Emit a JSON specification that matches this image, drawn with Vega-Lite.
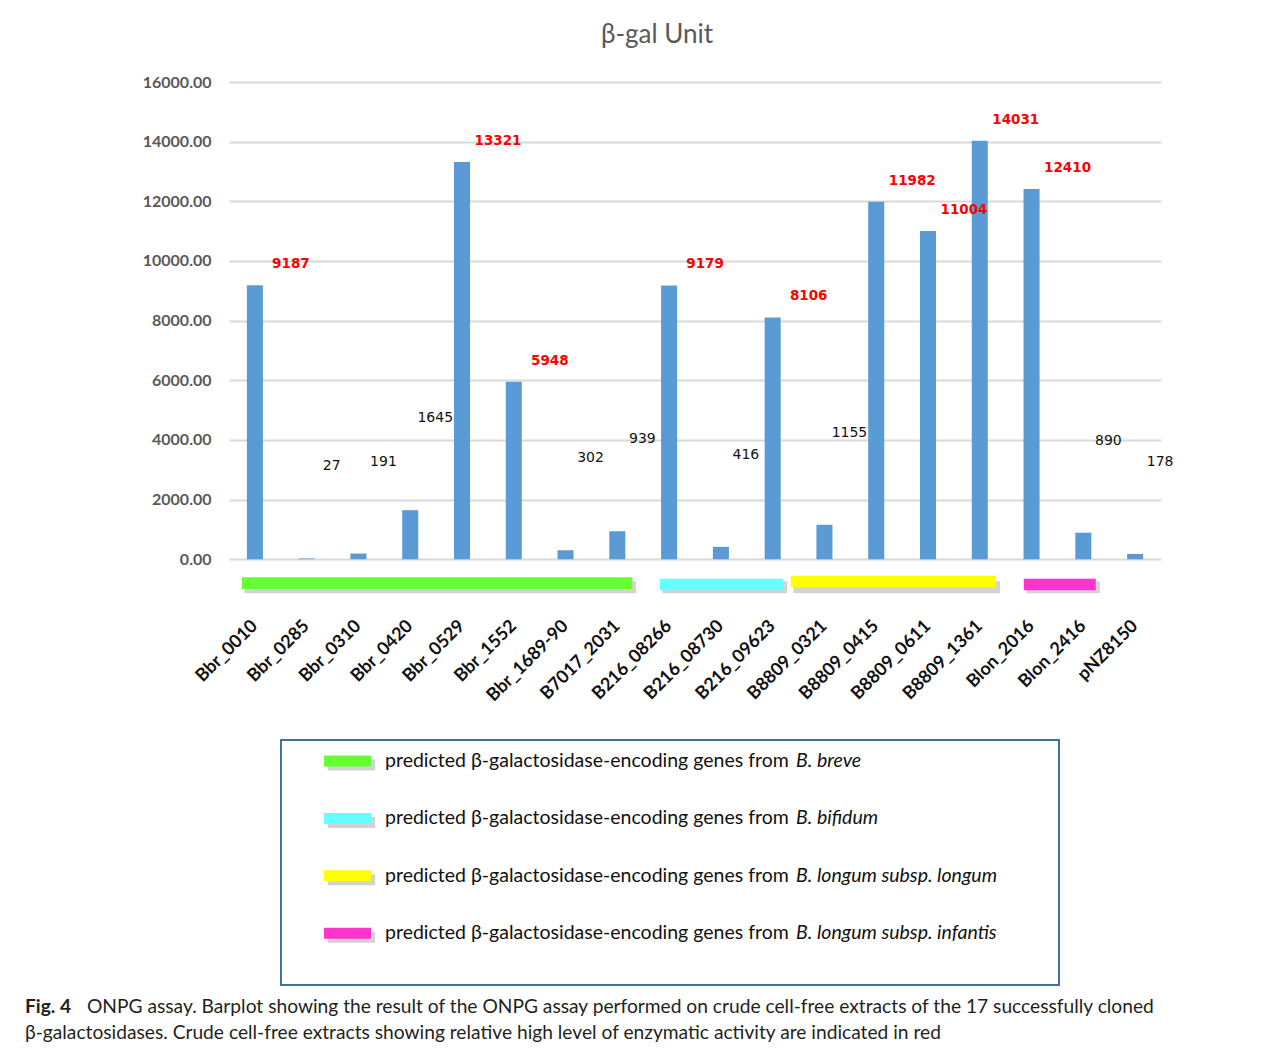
{
  "$schema": "https://vega.github.io/schema/vega-lite/v6.json",
  "autosize": {"type": "pad"},
  "padding": {"left": 25, "top": 22, "right": 5, "bottom": 5},
  "spacing": 34,
  "config": {"view": {"stroke": null}, "font": "Lato"},
  "datasets": {
    "bars": [
      {"gene": "Bbr_0010", "unit": 9187, "level": "high"},
      {"gene": "Bbr_0285", "unit": 27, "level": "low"},
      {"gene": "Bbr_0310", "unit": 191, "level": "low"},
      {"gene": "Bbr_0420", "unit": 1645, "level": "low"},
      {"gene": "Bbr_0529", "unit": 13321, "level": "high"},
      {"gene": "Bbr_1552", "unit": 5948, "level": "high"},
      {"gene": "Bbr_1689-90", "unit": 302, "level": "low"},
      {"gene": "B7017_2031", "unit": 939, "level": "low"},
      {"gene": "B216_08266", "unit": 9179, "level": "high"},
      {"gene": "B216_08730", "unit": 416, "level": "low"},
      {"gene": "B216_09623", "unit": 8106, "level": "high"},
      {"gene": "B8809_0321", "unit": 1155, "level": "low"},
      {"gene": "B8809_0415", "unit": 11982, "level": "high"},
      {"gene": "B8809_0611", "unit": 11004, "level": "high"},
      {"gene": "B8809_1361", "unit": 14031, "level": "high"},
      {"gene": "Blon_2016", "unit": 12410, "level": "high"},
      {"gene": "Blon_2416", "unit": 890, "level": "low"},
      {"gene": "pNZ8150", "unit": 178, "level": "low"}
    ],
    "groups": [
      {"species": "B. breve", "first": "Bbr_0010", "last": "B7017_2031"},
      {"species": "B. bifidum", "first": "B216_08266", "last": "B216_09623"},
      {"species": "B. longum subsp. longum", "first": "B8809_0321", "last": "B8809_1361"},
      {"species": "B. longum subsp. infantis", "first": "Blon_2016", "last": "Blon_2416"}
    ],
    "legend": [
      {"row": 1, "species": "B. breve", "prefix": "predicted β-galactosidase-encoding genes from"},
      {"row": 2, "species": "B. bifidum", "prefix": "predicted β-galactosidase-encoding genes from"},
      {"row": 3, "species": "B. longum subsp. longum", "prefix": "predicted β-galactosidase-encoding genes from"},
      {"row": 4, "species": "B. longum subsp. infantis", "prefix": "predicted β-galactosidase-encoding genes from"}
    ],
    "caption": [
      {"line": 1, "lead": "Fig. 4", "text": "ONPG assay. Barplot showing the result of the ONPG assay performed on crude cell-free extracts of the 17 successfully cloned"},
      {"line": 2, "lead": "", "text": "β-galactosidases. Crude cell-free extracts showing relative high level of enzymatic activity are indicated in red"}
    ]
  },
  "vconcat": [
    {
      "spacing": 0,
      "hconcat": [
        {"width": 117, "height": 10, "data": {"values": []}, "mark": "point"},
        {
          "width": 932,
          "height": 519,
          "title": {"text": "β-gal Unit", "fontSize": 26, "font": "Lato", "fontWeight": "normal", "color": "#595959", "offset": 26, "dx": -38},
          "encoding": {
            "x": {
              "field": "gene", "type": "nominal", "sort": null, "title": null,
              "scale": {"domain": ["Bbr_0010","Bbr_0285","Bbr_0310","Bbr_0420","Bbr_0529","Bbr_1552","Bbr_1689-90","B7017_2031","B216_08266","B216_08730","B216_09623","B8809_0321","B8809_0415","B8809_0611","B8809_1361","Blon_2016","Blon_2416","pNZ8150"], "paddingInner": 0, "paddingOuter": 0},
              "axis": {"labelAngle": -45, "labelAlign": "right", "labelBaseline": "middle", "labelFontWeight": "bold", "labelFontSize": 18, "labelColor": "#111111", "labelFont": "Lato", "domain": false, "ticks": false, "labelPadding": 22}
            }
          },
          "layer": [
            {
              "data": {"name": "bars"},
              "mark": {"type": "bar", "width": {"band": 0.31}, "color": "#5B9BD5"},
              "encoding": {
                "y": {
                  "field": "unit", "type": "quantitative", "title": null,
                  "scale": {"domain": [-1400, 16000], "nice": false, "zero": false},
                  "axis": {"values": [0,2000,4000,6000,8000,10000,12000,14000,16000], "format": ".2f", "labelFontWeight": "bold", "labelFontSize": 16, "labelColor": "#595959", "gridColor": "#D9D9D9", "gridWidth": 2, "domain": false, "ticks": false, "labelPadding": 18}
                }
              }
            },
            {
              "data": {"name": "bars"},
              "transform": [{"filter": "datum.level == 'low'"}],
              "mark": {"type": "text", "font": "DejaVu Sans", "fontSize": 14, "color": "#111111", "dx": 25, "dy": -92, "baseline": "middle"},
              "encoding": {"y": {"field": "unit", "type": "quantitative"}, "text": {"field": "unit", "type": "quantitative", "format": "d"}}
            },
            {
              "data": {"name": "bars"},
              "transform": [{"filter": "datum.level == 'high'"}],
              "mark": {"type": "text", "font": "DejaVu Sans", "fontSize": 13.5, "fontWeight": "bold", "color": "#FF0000", "dx": 36, "dy": -21, "baseline": "middle"},
              "encoding": {"y": {"field": "unit", "type": "quantitative"}, "text": {"field": "unit", "type": "quantitative", "format": "d"}}
            },
            {
              "data": {"name": "groups"},
              "transform": [{"filter": "datum.species == 'B. breve'"}],
              "mark": {"type": "rect", "color": "#7F7F7F", "opacity": 0.35},
              "encoding": {"x": {"field": "first", "bandPosition": 0.3}, "x2": {"field": "last", "bandPosition": 0.86}, "y": {"datum": -740}, "y2": {"datum": -1140}}
            },
            {
              "data": {"name": "groups"},
              "transform": [{"filter": "datum.species == 'B. bifidum'"}],
              "mark": {"type": "rect", "color": "#7F7F7F", "opacity": 0.35},
              "encoding": {"x": {"field": "first", "bandPosition": 0.37}, "x2": {"field": "last", "bandPosition": 0.78}, "y": {"datum": -740}, "y2": {"datum": -1140}}
            },
            {
              "data": {"name": "groups"},
              "transform": [{"filter": "datum.species == 'B. longum subsp. longum'"}],
              "mark": {"type": "rect", "color": "#7F7F7F", "opacity": 0.35},
              "encoding": {"x": {"field": "first", "bandPosition": -0.1}, "x2": {"field": "last", "bandPosition": 0.89}, "y": {"datum": -740}, "y2": {"datum": -1140}}
            },
            {
              "data": {"name": "groups"},
              "transform": [{"filter": "datum.species == 'B. longum subsp. infantis'"}],
              "mark": {"type": "rect", "color": "#7F7F7F", "opacity": 0.35},
              "encoding": {"x": {"field": "first", "bandPosition": 0.4}, "x2": {"field": "last", "bandPosition": 0.82}, "y": {"datum": -740}, "y2": {"datum": -1140}}
            },
            {
              "data": {"name": "groups"},
              "transform": [{"filter": "datum.species == 'B. breve'"}],
              "mark": {"type": "rect", "color": "#66FF33"},
              "encoding": {"x": {"field": "first", "bandPosition": 0.25}, "x2": {"field": "last", "bandPosition": 0.79}, "y": {"datum": -600}, "y2": {"datum": -1000}}
            },
            {
              "data": {"name": "groups"},
              "transform": [{"filter": "datum.species == 'B. bifidum'"}],
              "mark": {"type": "rect", "color": "#66FFFF"},
              "encoding": {"x": {"field": "first", "bandPosition": 0.32}, "x2": {"field": "last", "bandPosition": 0.7}, "y": {"datum": -650}, "y2": {"datum": -1040}}
            },
            {
              "data": {"name": "groups"},
              "transform": [{"filter": "datum.species == 'B. longum subsp. longum'"}],
              "mark": {"type": "rect", "color": "#FFFF00"},
              "encoding": {"x": {"field": "first", "bandPosition": -0.15}, "x2": {"field": "last", "bandPosition": 0.81}, "y": {"datum": -550}, "y2": {"datum": -950}}
            },
            {
              "data": {"name": "groups"},
              "transform": [{"filter": "datum.species == 'B. longum subsp. infantis'"}],
              "mark": {"type": "rect", "color": "#FF33CC"},
              "encoding": {"x": {"field": "first", "bandPosition": 0.35}, "x2": {"field": "last", "bandPosition": 0.74}, "y": {"datum": -650}, "y2": {"datum": -1040}}
            }
          ]
        }
      ]
    },
    {
      "spacing": 8,
      "vconcat": [
        {
          "spacing": 0,
          "hconcat": [
            {"width": 255, "height": 10, "data": {"values": []}, "mark": "point"},
            {
              "width": 778,
              "height": 245,
              "view": {"stroke": "#41719C", "strokeWidth": 2},
              "data": {"name": "legend"},
              "encoding": {
                "y": {"field": "row", "type": "quantitative", "scale": {"domain": [0.634, 4.902], "reverse": true, "nice": false, "zero": false}, "axis": null}
              },
              "layer": [
                {
                  "mark": {"type": "rule", "strokeWidth": 11, "color": "#7F7F7F", "opacity": 0.35},
                  "encoding": {
                    "x": {"datum": 0.06, "type": "quantitative", "scale": {"domain": [0, 1], "nice": false, "zero": false}, "axis": null},
                    "x2": {"datum": 0.121},
                    "yOffset": {"value": 4}
                  }
                },
                {
                  "mark": {"type": "rule", "strokeWidth": 11},
                  "encoding": {
                    "x": {"datum": 0.0553, "type": "quantitative"},
                    "x2": {"datum": 0.1157},
                    "color": {"field": "species", "type": "nominal", "scale": {"domain": ["B. breve", "B. bifidum", "B. longum subsp. longum", "B. longum subsp. infantis"], "range": ["#66FF33", "#66FFFF", "#FFFF00", "#FF33CC"]}, "legend": null}
                  }
                },
                {
                  "mark": {"type": "text", "align": "left", "baseline": "middle", "fontSize": 19.5, "font": "Lato", "color": "#111111"},
                  "encoding": {"x": {"datum": 0.1337, "type": "quantitative"}, "text": {"field": "prefix"}}
                },
                {
                  "mark": {"type": "text", "align": "left", "baseline": "middle", "fontSize": 19.5, "font": "Lato", "fontStyle": "italic", "color": "#111111", "dx": 411},
                  "encoding": {"x": {"datum": 0.1337, "type": "quantitative"}, "text": {"field": "species"}}
                }
              ]
            }
          ]
        },
        {
          "width": 1250,
          "height": 52,
          "data": {"name": "caption"},
          "encoding": {
            "y": {"field": "line", "type": "ordinal", "scale": {"type": "point", "padding": 0.5}, "axis": null},
            "x": {"datum": 0, "type": "quantitative", "scale": {"domain": [0, 1], "nice": false}, "axis": null}
          },
          "layer": [
            {
              "mark": {"type": "text", "align": "left", "baseline": "middle", "fontSize": 19.2, "font": "Lato", "fontWeight": "bold", "color": "#231F20"},
              "encoding": {"text": {"field": "lead"}}
            },
            {
              "transform": [{"filter": "datum.line == 1"}],
              "mark": {"type": "text", "align": "left", "baseline": "middle", "fontSize": 19.2, "font": "Lato", "color": "#231F20", "dx": 62},
              "encoding": {"text": {"field": "text"}}
            },
            {
              "transform": [{"filter": "datum.line == 2"}],
              "mark": {"type": "text", "align": "left", "baseline": "middle", "fontSize": 19.2, "font": "Lato", "color": "#231F20"},
              "encoding": {"text": {"field": "text"}}
            }
          ]
        }
      ]
    }
  ]
}
